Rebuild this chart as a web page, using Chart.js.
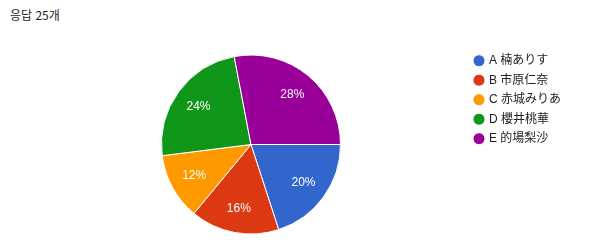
<!DOCTYPE html>
<html lang="ko">
<head>
    <meta charset="UTF-8">
    <title>응답</title>
    <script src="https://cdn.jsdelivr.net/npm/chart.js"></script>
    <style>
        body {
            margin: 0;
            background-color: #fff;
        }
        .wrap {
            position: relative;
            width: 615px;
            height: 251px;
        }
        .title {
            position: absolute;
            left: 10px;
            top: 6px;
            font-family: 'Noto Sans CJK KR', Arial, sans-serif;
            font-size: 12px;
            color: #222;
        }
        canvas {
            position: absolute;
            left: 0;
            top: 0;
        }
    </style>
</head>
<body>
    <div class="wrap">
        <div class="title" id="title"></div>
        <canvas id="pieChart" width="615" height="251"></canvas>
    </div>

    <script>
        const labels = ['A 楠ありす', 'B 市原仁奈', 'C 赤城みりあ', 'D 櫻井桃華', 'E 的場梨沙'];
        const counts = [5, 4, 3, 6, 7];
        const colors = ['#3366cc', '#dc3912', '#ff9900', '#109618', '#990099'];

        const total = counts.reduce((a, b) => a + b, 0);
        document.getElementById('title').textContent = `응답 ${total}개`;

        // percent text inside each slice
        const sliceLabels = {
            id: 'sliceLabels',
            afterDatasetsDraw(chart) {
                const ctx = chart.ctx;
                const meta = chart.getDatasetMeta(0);
                ctx.save();
                ctx.font = '12px Arial, "Liberation Sans", sans-serif';
                ctx.fillStyle = '#fff';
                ctx.textAlign = 'center';
                ctx.textBaseline = 'middle';
                meta.data.forEach((arc, i) => {
                    const {x, y, startAngle, endAngle, outerRadius} = arc.getProps(['x', 'y', 'startAngle', 'endAngle', 'outerRadius'], true);
                    const mid = (startAngle + endAngle) / 2;
                    const r = outerRadius * 0.725;
                    const pct = Math.round(counts[i] / total * 100) + '%';
                    ctx.fillText(pct, x + Math.cos(mid) * r, y + Math.sin(mid) * r);
                });
                ctx.restore();
            }
        };

        new Chart(document.getElementById('pieChart'), {
            type: 'pie',
            data: {
                labels: labels,
                datasets: [{
                    data: counts,
                    backgroundColor: colors,
                    borderColor: '#fff',
                    borderWidth: 1,
                    hoverOffset: 0
                }]
            },
            options: {
                responsive: false,
                animation: false,
                rotation: 90,
                layout: {
                    padding: {top: 47.2, left: 34.5, right: 44, bottom: 16.5}
                },
                plugins: {
                    // empty subtitle only used as a spacer above the pie
                    subtitle: {
                        display: true,
                        text: '',
                        fullSize: false,
                        padding: 0,
                        font: {size: 7.3, lineHeight: 1}
                    },
                    legend: {
                        position: 'right',
                        align: 'start',
                        labels: {
                            usePointStyle: true,
                            pointStyle: 'circle',
                            boxWidth: 8,
                            boxHeight: 8.5,
                            padding: 7.5,
                            color: '#222',
                            font: {size: 12, family: 'Arial, "Liberation Sans", "Noto Sans CJK JP", sans-serif'}
                        }
                    },
                    tooltip: {enabled: false}
                }
            },
            plugins: [sliceLabels]
        });
    </script>
</body>
</html>
